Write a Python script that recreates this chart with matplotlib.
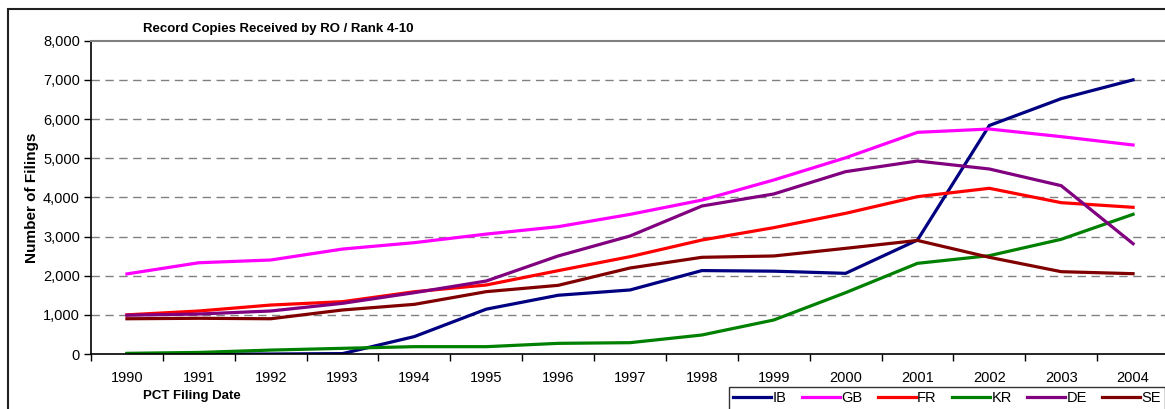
import matplotlib.pyplot as plt
from matplotlib.patches import Rectangle

plt.rcParams['font.family'] = ['Liberation Sans', 'DejaVu Sans']

years = [str(y) for y in range(1990, 2005)]

ib = [0, 0, 0, 10, 445, 1145, 1500, 1635, 2130, 2115, 2060, 2910, 5835, 6520, 7000]
gb = [2045, 2330, 2400, 2680, 2843, 3062, 3251, 3565, 3930, 4443, 5010, 5660, 5745, 5550, 5337]
fr = [1000, 1098, 1250, 1336, 1590, 1762, 2128, 2485, 2910, 3226, 3592, 4018, 4231, 3864, 3746]
kr = [17, 40, 100, 145, 187, 187, 272, 289, 485, 868, 1566, 2315, 2511, 2929, 3567]
de = [990, 1021, 1098, 1294, 1566, 1864, 2503, 3013, 3779, 4086, 4656, 4928, 4724, 4298, 2817]
se = [900, 912, 900, 1124, 1268, 1592, 1753, 2196, 2469, 2503, 2698, 2900, 2469, 2102, 2051]

series = [("IB", ib, "#000080"), ("GB", gb, "#FF00FF"), ("FR", fr, "#FF0000"),
          ("KR", kr, "#008000"), ("DE", de, "#800080"), ("SE", se, "#800000")]

W, H = 1165, 409
fig = plt.figure(figsize=(W / 100, H / 100), dpi=100)
ax = fig.add_axes([91 / W, 55 / H, 1078 / W, 313.3 / H])

x = range(len(years))
for name, vals, col in series:
    ax.plot(x, vals, color=col, lw=2.3, label=name, solid_joinstyle='miter')

ax.set_xlim(-0.5, len(years) - 0.5)
ax.set_ylim(0, 8000)
ax.set_yticks(range(0, 8001, 1000))
ax.set_yticklabels([f"{v:,}" for v in range(0, 8001, 1000)])
ax.set_xticks(list(x))
ax.set_xticklabels(years)
ax.set_xticks([i - 0.5 for i in range(len(years) + 1)], minor=True)
ax.tick_params(axis='x', which='major', length=0, pad=12, labelsize=10.5)
ax.tick_params(axis='x', which='minor', length=5, direction='out', width=1)
ax.tick_params(axis='y', length=5, direction='out', width=1, labelsize=10.5, pad=3)

for v in range(1000, 8000, 1000):
    ax.axhline(v, color='#808080', lw=1, ls=(0, (6, 4)), zorder=0)
ax.spines['top'].set_color('#808080')
ax.spines['top'].set_linewidth(1.5)
ax.spines['left'].set_linewidth(1.2)
ax.spines['bottom'].set_linewidth(1.2)
ax.spines['right'].set_visible(False)

fig.text(143 / W, 1 - 29 / H, "Record Copies Received by RO / Rank 4-10",
         fontsize=9.5, fontweight='bold', va='center', ha='left')
fig.text(143 / W, 1 - 396 / H, "PCT Filing Date",
         fontsize=9.5, fontweight='bold', va='center', ha='left')
fig.text(32 / W, 1 - 198 / H, "Number of Filings", rotation=90,
         fontsize=11, fontweight='bold', va='center', ha='center')

# outer chart border
fig.patches.append(Rectangle((8 / W, -0.1), 1.2, 1.1 - 9 / H, transform=fig.transFigure,
                             fill=False, edgecolor='#202020', lw=1.5))

leg = fig.legend(loc='upper left', bbox_to_anchor=(729 / W, 1 - 387 / H), ncol=6,
                 fontsize=10.5, frameon=True, fancybox=False, handlelength=2.6,
                 handletextpad=0.1, columnspacing=1.05, borderpad=0.3, borderaxespad=0)
leg.get_frame().set_edgecolor('black')
leg.get_frame().set_linewidth(1)

fig.savefig("out.png", dpi=100)
